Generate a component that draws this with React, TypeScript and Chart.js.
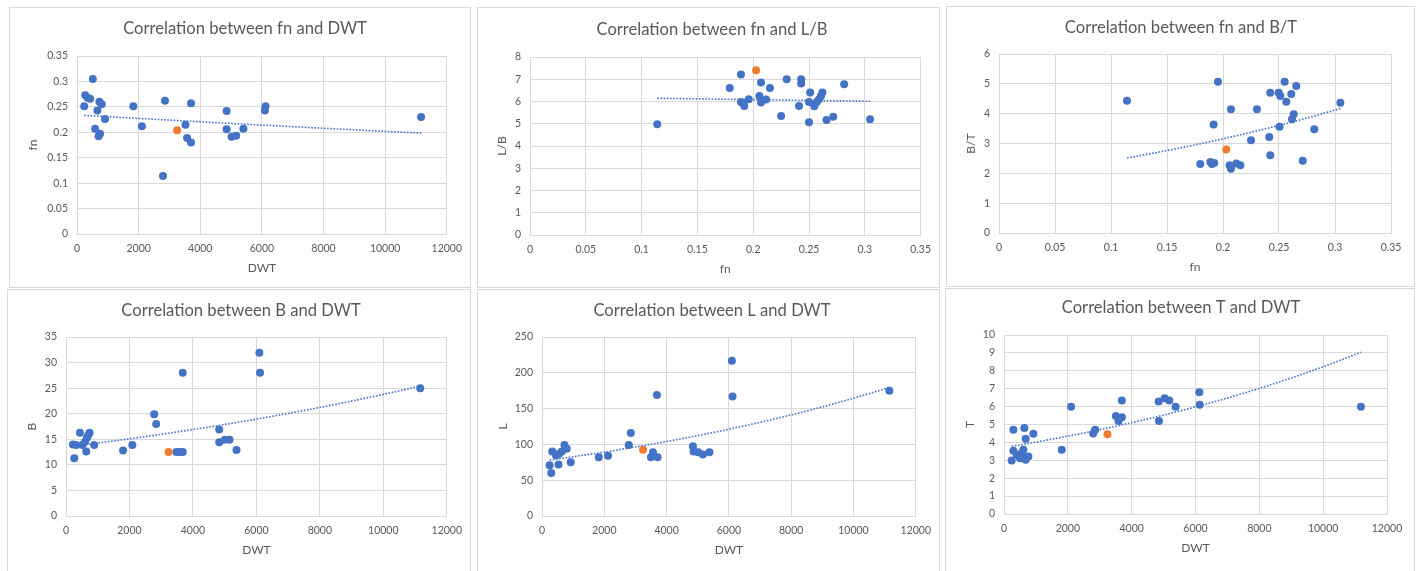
import React, { useEffect, useRef } from "react";
import { Chart, registerables } from "chart.js";
Chart.register(...registerables);

// ---------- Data ----------
// Panel 1: fn vs DWT
const dwtFn = [235, 267, 342, 428, 514, 588, 662, 700, 726, 749, 802, 909, 1829, 2107, 2791, 2856, 3519, 3572, 3700, 3700, 4856, 4856, 5016, 5166, 5401, 6096, 6118, 11166];
const fnDwt = [0.251, 0.273, 0.268, 0.266, 0.305, 0.207, 0.243, 0.192, 0.26, 0.197, 0.255, 0.226, 0.251, 0.212, 0.114, 0.262, 0.215, 0.189, 0.257, 0.18, 0.242, 0.206, 0.191, 0.193, 0.207, 0.243, 0.251, 0.23];
const targetDwtFn = [3251];
const targetFnDwt = [0.204];

// Panel 2: L/B vs fn
const fnLB = [0.114, 0.179, 0.189, 0.189, 0.191, 0.192, 0.196, 0.2055, 0.207, 0.207, 0.2115, 0.215, 0.225, 0.23, 0.241, 0.243, 0.243, 0.25, 0.251, 0.25, 0.2547, 0.257, 0.259, 0.2607, 0.262, 0.2657, 0.2717, 0.2815, 0.3047];
const lbFn = [4.98, 6.61, 7.21, 5.98, 5.91, 5.8, 6.1, 6.25, 6.85, 5.95, 6.09, 6.61, 5.35, 7.0, 5.8, 7.0, 6.81, 5.07, 6.4, 5.98, 5.79, 5.98, 6.1, 6.25, 6.4, 5.17, 5.31, 6.77, 5.2];
const targetFnLB = [0.2026];
const targetLB = [7.4];

// Panel 3: B/T vs fn
const fnBT = [0.1143, 0.1797, 0.1887, 0.1902, 0.1916, 0.1922, 0.1955, 0.2059, 0.2071, 0.2071, 0.2119, 0.2155, 0.225, 0.2303, 0.2413, 0.2422, 0.2422, 0.2497, 0.2505, 0.2512, 0.255, 0.2565, 0.261, 0.2616, 0.2631, 0.2654, 0.2712, 0.2815, 0.3048];
const btFn = [4.43, 2.31, 2.38, 2.31, 3.64, 2.35, 5.07, 2.27, 4.15, 2.15, 2.33, 2.27, 3.11, 4.15, 3.22, 4.7, 2.61, 4.7, 3.56, 4.59, 5.07, 4.4, 4.66, 3.81, 3.98, 4.93, 2.42, 3.48, 4.37];
const targetFnBT = [0.2029];
const targetBT = [2.8];

// Panel 4: B vs DWT
const dwtB = [220, 261, 324, 439, 520, 600, 638, 660, 700, 742, 888, 1798, 2091, 2780, 2843, 3480, 3580, 3680, 3679, 4829, 4829, 5007, 5153, 5373, 6094, 6115, 11164];
const bDwt = [14.0, 11.3, 13.9, 16.3, 13.9, 14.5, 12.6, 15.3, 15.8, 16.3, 13.9, 12.8, 13.9, 19.9, 18.0, 12.5, 12.5, 12.5, 28.0, 16.9, 14.4, 14.9, 14.9, 12.9, 31.9, 28.0, 25.0];
const targetDwtB = [3230];
const targetB = [12.5];

// Panel 5: L vs DWT
const dwtL = [244, 297, 329, 445, 530, 551, 636, 721, 795, 922, 1823, 2120, 2788, 2852, 3498, 3562, 3689, 3710, 4845, 4866, 5014, 5163, 5375, 6096, 6117, 11152];
const lDwt = [71, 60, 90, 85, 72, 87, 90, 99, 94, 75, 82, 84, 99, 116, 82, 89, 169, 82, 97.5, 90, 89, 86, 89, 217, 167, 175];
const targetDwtL = [3244];
const targetL = [92.4];

// Panel 6: T vs DWT
const dwtT = [241, 293, 293, 398, 502, 555, 607, 638, 680, 680, 764, 920, 1810, 2103, 2793, 2856, 3505, 3589, 3693, 3693, 4844, 4855, 5032, 5179, 5378, 6121, 6131, 11184];
const tDwt = [2.99, 4.7, 3.53, 3.31, 3.12, 3.4, 3.59, 4.8, 4.2, 3.03, 3.21, 4.48, 3.59, 5.99, 4.5, 4.7, 5.48, 5.19, 6.34, 5.41, 6.28, 5.19, 6.47, 6.34, 5.99, 6.8, 6.1, 5.99];
const targetDwtT = [3243];
const targetT = [4.46];

const titles = [
  "Correlation between fn and DWT",
  "Correlation between fn and L/B",
  "Correlation between fn and B/T",
  "Correlation between B and DWT",
  "Correlation between L and DWT",
  "Correlation between T and DWT",
];
const xLabels = ["DWT", "fn", "fn", "DWT", "DWT", "DWT"];
const yLabels = ["fn", "L/B", "B/T", "B", "L", "T"];
const xMaxes = [12000, 0.35, 0.35, 12000, 12000, 12000];
const xSteps = [2000, 0.05, 0.05, 2000, 2000, 2000];
const yMaxes = [0.35, 8, 6, 35, 250, 10];
const ySteps = [0.05, 1, 1, 5, 50, 1];

// ---------- Layout (page pixels) ----------
type Geo = { box: [number, number, number, number]; plot: [number, number, number, number]; titleX: number; titleY: number; yOff: number };
const geos: Geo[] = [
  { box: [9, 7, 462, 281], plot: [77, 56, 451, 234], titleX: 245, titleY: 29, yOff: 44 },
  { box: [477, 7, 463, 281], plot: [530, 57, 922, 235], titleX: 712, titleY: 30, yOff: 28 },
  { box: [946, 6, 469, 281], plot: [999, 54, 1391, 233], titleX: 1181, titleY: 28, yOff: 28 },
  { box: [7, 289, 464, 300], plot: [66, 337, 448, 516], titleX: 241, titleY: 311, yOff: 34 },
  { box: [477, 289, 463, 300], plot: [542, 337, 919, 516], titleX: 712, titleY: 311, yOff: 39 },
  { box: [945, 288, 470, 300], plot: [1004, 335, 1387, 514], titleX: 1181, titleY: 308, yOff: 34 },
];

const FONT = "Lato, 'Open Sans', sans-serif";
const BLUE = "#4472C4";
const ORANGE = "#ED7D31";
const GRID = "#d9d9d9";
const TEXT = "#595959";

function expFit(xs: number[], ys: number[]) {
  const n = xs.length;
  const ls = ys.map((v) => Math.log(v));
  const mx = xs.reduce((a, b) => a + b, 0) / n;
  const ml = ls.reduce((a, b) => a + b, 0) / n;
  let sxy = 0, sxx = 0;
  for (let i = 0; i < n; i++) {
    sxy += (xs[i] - mx) * (ls[i] - ml);
    sxx += (xs[i] - mx) * (xs[i] - mx);
  }
  const b = sxy / sxx;
  const a = Math.exp(ml - b * mx);
  return { a, b };
}

function trend(xs: number[], ys: number[]) {
  const { a, b } = expFit(xs, ys);
  const lo = Math.min(...xs);
  const hi = Math.max(...xs);
  const pts = [];
  for (let i = 0; i <= 60; i++) {
    const x = lo + ((hi - lo) * i) / 60;
    pts.push({ x, y: a * Math.exp(b * x) });
  }
  return pts;
}

const zip = (xs: number[], ys: number[]) => xs.map((x, i) => ({ x, y: ys[i] }));

const series = [
  { xs: dwtFn, ys: fnDwt, tx: targetDwtFn, ty: targetFnDwt },
  { xs: fnLB, ys: lbFn, tx: targetFnLB, ty: targetLB },
  { xs: fnBT, ys: btFn, tx: targetFnBT, ty: targetBT },
  { xs: dwtB, ys: bDwt, tx: targetDwtB, ty: targetB },
  { xs: dwtL, ys: lDwt, tx: targetDwtL, ty: targetL },
  { xs: dwtT, ys: tDwt, tx: targetDwtT, ty: targetT },
];

const fmt = (v: any) => String(+Number(v).toFixed(4));

function Panel({ idx }: { idx: number }) {
  const ref = useRef<HTMLCanvasElement | null>(null);
  const g = geos[idx];
  const [bl, bt, bw, bh] = g.box;
  const ox = bl + 1, oy = bt + 1, cw = bw - 2, ch = bh - 2;
  useEffect(() => {
    const s = series[idx];
    const [pl, pt, pr, pb] = g.plot;
    const TS = 16.6, TLH = TS * 1.2;
    const Hx = 45;
    const padRight = ox + cw - pr;
    const padLeft = 2 * (g.titleX - ox) - cw + padRight;
    const Wy = pl - ox - padLeft;
    const yTitlePadTop = pl - g.yOff - (ox + padLeft) - 7.2;
    const titleTopPad = g.titleY - oy - TLH / 2;
    const titleBotPad = pt - oy - titleTopPad - TLH;
    const chart = new Chart(ref.current!, {
      type: "scatter",
      data: {
        datasets: [
          {
            type: "line",
            data: trend(s.xs, s.ys),
            borderColor: BLUE,
            borderWidth: 1.6,
            borderDash: [1.6, 1.6],
            pointRadius: 0,
            fill: false,
            order: 0,
          } as any,
          {
            data: zip(s.tx, s.ty),
            backgroundColor: ORANGE,
            borderColor: ORANGE,
            pointRadius: 4,
            borderWidth: 0,
            order: 1,
          },
          {
            data: zip(s.xs, s.ys),
            backgroundColor: BLUE,
            borderColor: BLUE,
            pointRadius: 4,
            borderWidth: 0,
            order: 2,
          },
        ],
      },
      options: {
        responsive: false,
        animation: false,
        layout: {
          padding: {
            left: padLeft,
            right: padRight,
            top: 0,
            bottom: oy + ch - pb - Hx,
          },
        },
        plugins: {
          legend: { display: false },
          tooltip: { enabled: false },
          title: {
            display: true,
            text: titles[idx],
            color: TEXT,
            font: { family: FONT, size: TS, weight: "normal" as any, lineHeight: 1.2 },
            padding: { top: titleTopPad, bottom: titleBotPad },
          },
        },
        scales: {
          x: {
            type: "linear",
            min: 0,
            max: xMaxes[idx],
            afterFit: (sc: any) => { sc.height = Hx; },
            ticks: { stepSize: xSteps[idx], color: TEXT, padding: 8, font: { family: FONT, size: 10.5 }, callback: fmt, maxRotation: 0 },
            grid: { color: GRID, drawTicks: false, lineWidth: 1 },
            border: { color: GRID, width: 1 },
            title: { display: true, text: xLabels[idx], color: TEXT, font: { family: FONT, size: 12 }, padding: { top: 4, bottom: 4 } },
          },
          y: {
            type: "linear",
            min: 0,
            max: yMaxes[idx],
            afterFit: (sc: any) => { sc.width = Wy; },
            ticks: { stepSize: ySteps[idx], color: TEXT, padding: 9, font: { family: FONT, size: 10.5 }, callback: fmt },
            grid: { color: GRID, drawTicks: false, lineWidth: 1 },
            border: { color: GRID, width: 1 },
            title: { display: true, text: yLabels[idx], color: TEXT, font: { family: FONT, size: 12 }, padding: { top: yTitlePadTop, bottom: 4 } },
          },
        },
      } as any,
    });
    return () => chart.destroy();
  }, [idx]);
  return (
    <div
      style={{
        position: "absolute",
        left: bl,
        top: bt,
        width: bw,
        height: bh,
        boxSizing: "border-box",
        border: `1px solid ${GRID}`,
        background: "#fff",
      }}
    >
      <canvas ref={ref} width={cw} height={ch} style={{ position: "absolute", left: 0, top: 0, width: cw, height: ch }} />
    </div>
  );
}

export default function App() {
  return (
    <div style={{ position: "fixed", left: 0, top: 0, width: 1422, height: 571, overflow: "hidden", background: "#fff" }}>
      {[0, 1, 2, 3, 4, 5].map((i) => (
        <Panel key={i} idx={i} />
      ))}
    </div>
  );
}
